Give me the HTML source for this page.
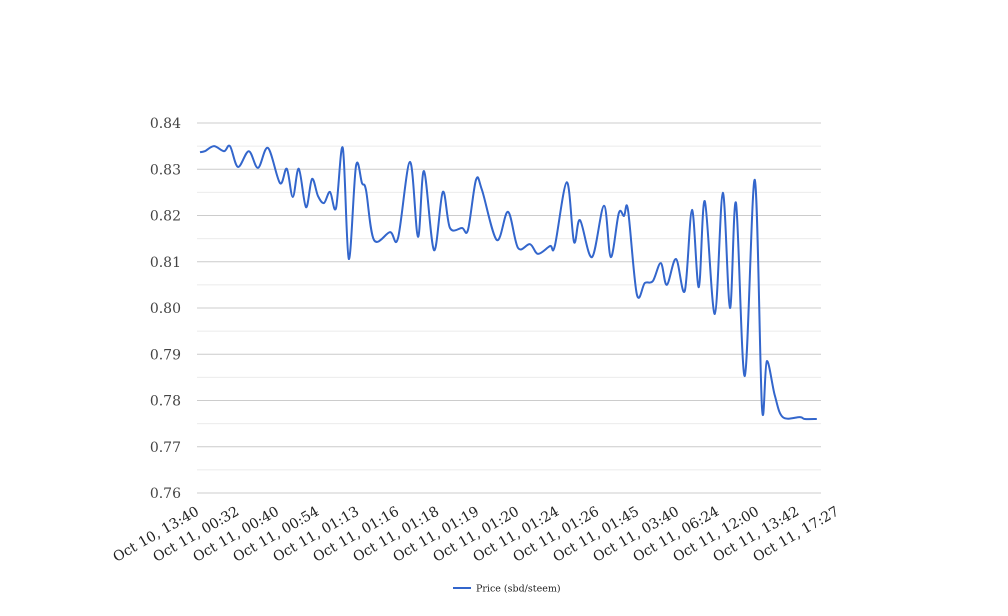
<!DOCTYPE html>
<html><head><meta charset="utf-8"><style>
html,body{margin:0;padding:0;background:#fff;}
svg{display:block;font-family:"DejaVu Serif","Liberation Serif",serif;}
</style></head><body>
<svg id="chart" width="1008" height="616" viewBox="0 0 1008 616" xmlns="http://www.w3.org/2000/svg">
<g id="grid"></g>
<g id="yaxis"></g>
<g id="xaxis"></g>
<path id="line" fill="none" stroke="#3366cc" stroke-width="2"></path>
<g>
<line x1="453" y1="588" x2="471" y2="588" stroke="#3366cc" stroke-width="2"/>
<text x="476" y="591.5" font-size="9.5" fill="#222">Price (sbd/steem)</text>
</g>
</svg>
<script>
const xLabels = ["Oct 10, 13:40","Oct 11, 00:32","Oct 11, 00:40","Oct 11, 00:54","Oct 11, 01:13","Oct 11, 01:16","Oct 11, 01:18","Oct 11, 01:19","Oct 11, 01:20","Oct 11, 01:24","Oct 11, 01:26","Oct 11, 01:45","Oct 11, 03:40","Oct 11, 06:24","Oct 11, 12:00","Oct 11, 13:42","Oct 11, 17:27"];
const yTicks = [0.76,0.77,0.78,0.79,0.80,0.81,0.82,0.83,0.84];
// time position (in label units 0..15.4) and price
const times = [0,0.12,0.35,0.6,0.75,0.95,1.22,1.45,1.7,2.0,2.17,2.32,2.47,2.65,2.8,2.95,3.1,3.25,3.4,3.57,3.72,3.9,4.05,4.15,4.35,4.75,4.95,5.25,5.45,5.6,5.85,6.07,6.25,6.55,6.7,6.9,7.05,7.42,7.7,7.95,8.25,8.45,8.75,8.87,9.17,9.35,9.5,9.8,10.1,10.27,10.47,10.6,10.7,10.92,11.12,11.32,11.52,11.67,11.9,12.12,12.3,12.47,12.62,12.87,13.07,13.25,13.4,13.62,13.87,14.05,14.17,14.37,14.57,15.0,15.12,15.42];
const prices = [0.8337,0.8339,0.8350,0.8339,0.8350,0.8305,0.8339,0.8303,0.8346,0.8270,0.8301,0.8240,0.8301,0.8218,0.8279,0.8242,0.8227,0.8251,0.8216,0.8346,0.8106,0.8307,0.8270,0.8255,0.8147,0.8164,0.8151,0.8316,0.8154,0.8296,0.8125,0.8251,0.8173,0.8173,0.8169,0.8277,0.8255,0.8147,0.8208,0.8130,0.8138,0.8117,0.8134,0.8134,0.8272,0.8143,0.8190,0.8110,0.8221,0.8110,0.8205,0.8199,0.8212,0.8030,0.8054,0.8058,0.8097,0.8050,0.8106,0.8037,0.8212,0.8045,0.8231,0.7987,0.8249,0.8000,0.8227,0.7853,0.8277,0.7784,0.7885,0.7811,0.7764,0.7764,0.7760,0.7760];

const NS="http://www.w3.org/2000/svg";
const X0=200, XSTEP=40, YTOP=123, YBOT=493, VMAX=0.84, VMIN=0.76;
const xs = t => X0 + t*XSTEP;
const ys = v => YTOP + (VMAX-v)/(VMAX-VMIN)*(YBOT-YTOP);
function mk(tag, attrs, parent){const e=document.createElementNS(NS,tag);for(const k in attrs)e.setAttribute(k,attrs[k]);parent.appendChild(e);return e;}

const grid=document.getElementById('grid');
for(let i=0;i<yTicks.length;i++){
  const y=ys(yTicks[i]);
  const l=mk('line',{x1:197,x2:821,y1:y,y2:y,stroke:'#cccccc','stroke-width':1},grid);
  
  
  if(i<yTicks.length-1){
    const ym=ys((yTicks[i]+yTicks[i+1])/2);
    const m=mk('line',{x1:197,x2:821,y1:ym,y2:ym,stroke:'#ebebeb','stroke-width':1},grid);
    
    
  }
}
const yaxis=document.getElementById('yaxis');
yTicks.forEach(v=>{
  const t=mk('text',{x:181,y:ys(v)+5,'text-anchor':'end','font-size':14,fill:'#444'},yaxis);
  
  
  t.textContent=v.toFixed(2);
});
const xaxis=document.getElementById('xaxis');
xLabels.forEach((s,i)=>{
  const x=xs(i), y=514;
  const t=mk('text',{x:x,y:y,'text-anchor':'end','font-size':14,fill:'#222',transform:`rotate(-30 ${x} ${y})`},xaxis);
  
  
  t.textContent=s;
});
// smooth line (Catmull-Rom)
const P=times.map((t,i)=>[xs(t),ys(prices[i])]);
let d=`M${P[0][0]},${P[0][1]}`;
for(let i=0;i<P.length-1;i++){
  const p0=P[Math.max(0,i-1)],p1=P[i],p2=P[i+1],p3=P[Math.min(P.length-1,i+2)];
  const k=1/6;
  const c1=[p1[0]+(p2[0]-p0[0])*k,p1[1]+(p2[1]-p0[1])*k];
  const c2=[p2[0]-(p3[0]-p1[0])*k,p2[1]-(p3[1]-p1[1])*k];
  d+=` C${c1[0]},${c1[1]} ${c2[0]},${c2[1]} ${p2[0]},${p2[1]}`;
}
document.getElementById('line').setAttribute('d',d);
</script>
</body></html>
